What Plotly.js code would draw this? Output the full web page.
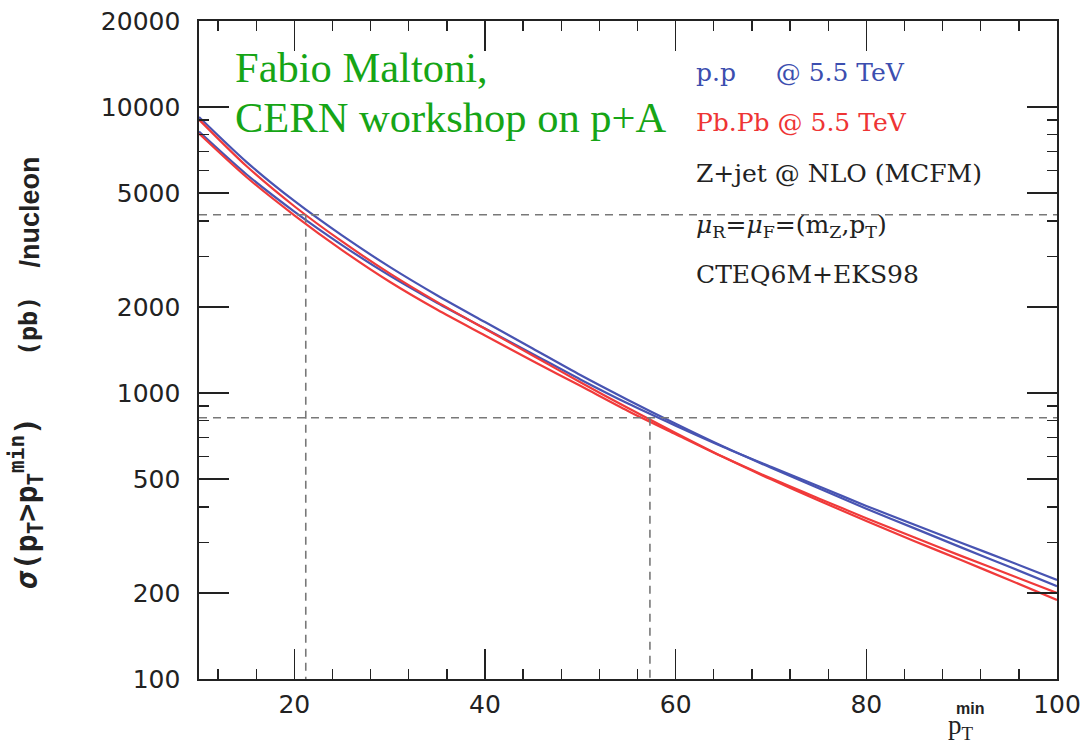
<!DOCTYPE html>
<html><head><meta charset="utf-8">
<script src="https://cdn.plot.ly/plotly-3.0.1.min.js"></script>
<style>html,body{margin:0;padding:0;background:#fff;}</style>
</head><body>
<div id="chart" style="width:1090px;height:747px;"></div>
<script>
// p_T^min values (GeV)
const ptMin = [10,15,20,25,30,35,40,45,50,55,60,65,70,75,80,85,90,95,100];
// p.p @ 5.5 TeV, two scale choices (pb/nucleon)
const ppScaleA = [9230,6420,4695,3557,2762,2194,1771,1431,1156,946,781,650,548,465,394,337,288,247,211];
const ppScaleB = [8210,5812,4311,3292,2573,2064,1682,1370,1116,919,769,648,552,472,403,347,299,258,222];
// Pb.Pb @ 5.5 TeV, two scale choices (pb/nucleon)
const pbScaleA = [9040,6208,4500,3389,2621,2079,1677,1353,1091,886,725,597,499,421,357,304,260,222,189];
const pbScaleB = [8078,5682,4185,3162,2450,1955,1590,1294,1060,866,718,597,503,428,365,313,269,232,200];
// dashed reference levels and the pT where they meet the curves
const refLevels = [4200, 820];
const refPt = [21.2, 57.3];
// axes
const xRange = [10, 100];
const yRange = [100, 20000];
const xTickVals = [20,40,60,80,100];
const yTickVals = [100,200,500,1000,2000,5000,10000,20000];
const yTickText = ['100','200','500','1000','2000','5000','10000','20000'];
const yMinorVals = [300,400,600,700,800,900,3000,4000,6000,7000,8000,9000];

const BLUE = 'rgb(72,84,178)';
const RED = 'rgb(240,58,58)';
const DASH = 'rgb(120,120,120)';

const traces = [];
[[ppScaleA, BLUE], [ppScaleB, BLUE], [pbScaleA, RED], [pbScaleB, RED]].forEach(([ys, c]) => {
  traces.push({x: ptMin, y: ys, type: 'scatter', mode: 'lines',
    line: {color: c, width: 2.2, shape: 'spline', smoothing: 0.8}, hoverinfo: 'skip'});
});
refLevels.forEach((lv, i) => {
  traces.push({x: xRange, y: [lv, lv], type: 'scatter', mode: 'lines',
    line: {color: DASH, width: 1.6, dash: '8px,6px'}, hoverinfo: 'skip'});
  traces.push({x: [refPt[i], refPt[i]], y: [lv, yRange[0]], type: 'scatter', mode: 'lines',
    line: {color: DASH, width: 1.6, dash: '8px,6px'}, hoverinfo: 'skip'});
});

const W = 1090, H = 747, L = 199, R = 33, T = 21, B = 68;
const pw = W - L - R, ph = H - T - B;
const px = v => (v - L) / pw;
const py = v => (H - B - v) / ph;

const serif = 'DejaVu Serif';
const annotations = [
  {text: 'Fabio Maltoni,', x: px(233), y: py(68), xanchor: 'left', yanchor: 'middle',
   font: {family: 'Liberation Serif', size: 42.5, color: 'rgb(22,165,22)'}},
  {text: 'CERN workshop on p+A', x: px(233), y: py(117), xanchor: 'left', yanchor: 'middle',
   font: {family: 'Liberation Serif', size: 42.5, color: 'rgb(22,165,22)'}},
  {text: 'p.p\u00a0\u00a0\u00a0\u00a0\u00a0@ 5.5 TeV', x: px(694), y: py(72), xanchor: 'left', yanchor: 'middle',
   font: {family: serif, size: 25, color: 'rgb(60,78,175)'}},
  {text: 'Pb.Pb @ 5.5 TeV', x: px(694), y: py(122), xanchor: 'left', yanchor: 'middle',
   font: {family: serif, size: 25, color: 'rgb(238,52,52)'}},
  {text: 'Z+jet @ NLO (MCFM)', x: px(694), y: py(174), xanchor: 'left', yanchor: 'middle',
   font: {family: serif, size: 25, color: '#222'}},
  {text: '<i>μ</i><sub>R</sub>=<i>μ</i><sub>F</sub>=(m<sub>Z</sub>,p<sub>T</sub>)', x: px(694), y: py(226), xanchor: 'left', yanchor: 'middle',
   font: {family: serif, size: 25, color: '#222'}},
  {text: 'CTEQ6M+EKS98', x: px(694), y: py(274), xanchor: 'left', yanchor: 'middle',
   font: {family: serif, size: 25, color: '#222'}},
  {text: '<b><i>σ</i>(p<sub>T</sub>>p<sub>T</sub><sup>min</sup>)</b>', x: px(27), y: py(592), textangle: -90,
   xanchor: 'center', yanchor: 'bottom',
   font: {family: 'DejaVu Sans Mono', size: 30, color: '#222'}},
  {text: '<b>(pb)</b>', x: px(28), y: py(326), textangle: -90,
   xanchor: 'center', yanchor: 'middle',
   font: {family: 'DejaVu Sans Mono', size: 25, color: '#222'}},
  {text: '<b>/nucleon</b>', x: px(29), y: py(270), textangle: -90,
   xanchor: 'center', yanchor: 'bottom',
   font: {family: 'Liberation Sans', size: 27, color: '#222'}},
  {text: 'p<sub>T</sub>', x: px(946), y: py(727), xanchor: 'left', yanchor: 'middle',
   font: {family: 'Liberation Serif', size: 27, color: '#222'}},
  {text: '<b>min</b>', x: px(954), y: py(708), xanchor: 'left', yanchor: 'middle',
   font: {family: 'Liberation Sans Narrow, Liberation Sans', size: 16, color: '#222'}}
];
annotations.forEach(a => { a.xref = 'paper'; a.yref = 'paper'; a.showarrow = false; });

const axisCommon = {
  showline: true, linecolor: '#222', linewidth: 1.6, mirror: 'allticks',
  ticks: 'inside', ticklen: 30, tickwidth: 1.4, tickcolor: '#222',
  showgrid: false, zeroline: false,
  tickfont: {family: 'DejaVu Sans', size: 25, color: '#222'}
};

const layout = {
  width: W, height: H,
  margin: {l: L, r: R, t: T, b: B, pad: 0},
  paper_bgcolor: '#fff', plot_bgcolor: '#fff',
  showlegend: false,
  xaxis: Object.assign({}, axisCommon, {
    range: xRange, tickmode: 'array', tickvals: xTickVals, ticklabelstandoff: 2,
    minor: {tickmode: 'linear', tick0: 0, dtick: 4, ticks: 'inside', ticklen: 10, tickwidth: 1.4, tickcolor: '#222', showgrid: false}
  }),
  yaxis: Object.assign({}, axisCommon, {
    type: 'log', range: [Math.log10(yRange[0]), Math.log10(yRange[1])],
    tickmode: 'array', tickvals: yTickVals, ticktext: yTickText, ticklabelstandoff: 12,
    minor: {tickmode: 'array', tickvals: yMinorVals, ticks: 'inside', ticklen: 10, tickwidth: 1.4, tickcolor: '#222', showgrid: false}
  }),
  annotations: annotations
};

Plotly.newPlot('chart', traces, layout, {displayModeBar: false, staticPlot: true});
</script>
</body></html>
